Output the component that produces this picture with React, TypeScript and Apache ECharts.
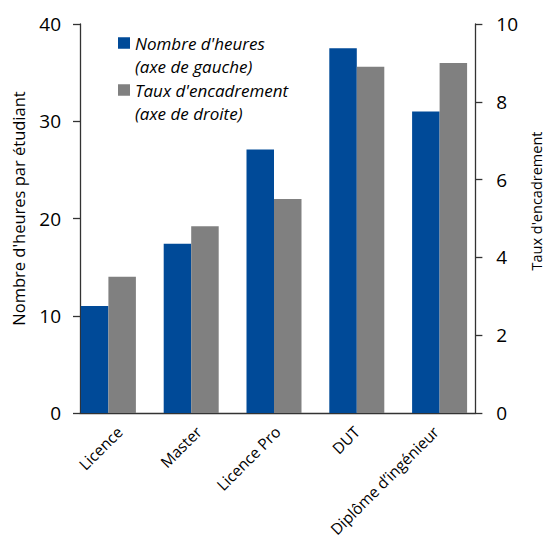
import React, { useEffect, useRef } from "react";
import * as echarts from "echarts";

const categories = ["Licence", "Master", "Licence Pro", "DUT", "Diplôme d’ingénieur"];
const heures = [11, 17.4, 27.1, 37.5, 31];
const encadrement = [3.5, 4.8, 5.5, 8.9, 9.0];
const leftTicks = { min: 0, max: 40, interval: 10 };
const rightTicks = { min: 0, max: 10, interval: 2 };
const seriesNames = ["Nombre d'heures", "Taux d'encadrement"];
const legendSub = ["(axe de gauche)", "(axe de droite)"];
const leftAxisName = "Nombre d'heures par étudiant";
const rightAxisName = "Taux d'encadrement";

const BLUE = "#004A98";
const GRAY = "#808080";
const FONT = "'Open Sans', 'Noto Sans', sans-serif";
const TXT = "#000";

export default function App() {
  const ref = useRef<HTMLDivElement>(null);
  useEffect(() => {
    if (!ref.current) return;
    const chart = echarts.init(ref.current, undefined, { renderer: "svg" });
    const axisLine = { show: true, lineStyle: { color: "#333", width: 1.3 } };
    const legendColors = [BLUE, GRAY];
    const graphic: any[] = [];
    seriesNames.forEach((n, i) => {
      const y0 = 43 + i * 47;
      graphic.push({
        type: "rect",
        left: 118,
        top: y0 - 5.75,
        shape: { width: 12, height: 11.5 },
        style: { fill: legendColors[i] },
        silent: true,
      });
      graphic.push({
        type: "text",
        x: 135,
        y: y0,
        style: {
          text: n,
          fill: TXT,
          font: `italic 17px ${FONT}`,
          verticalAlign: "middle",
        },
      });
      graphic.push({
        type: "text",
        x: 135,
        y: y0 + 23.5,
        style: {
          text: legendSub[i],
          fill: TXT,
          font: `italic 17px ${FONT}`,
          verticalAlign: "middle",
        },
      });
    });
    chart.setOption({
      animation: false,
      textStyle: { fontFamily: FONT },
      grid: [
        { left: 80, right: 59, top: 24, bottom: 136 },
        { left: 67, width: 414, top: 24, bottom: 136 },
      ],
      xAxis: [
        {
          type: "category",
          gridIndex: 0,
          data: categories,
          boundaryGap: true,
          axisLine,
          axisTick: { show: false },
          axisLabel: { rotate: 45, fontSize: 15.5, color: TXT, margin: 16, interval: 0, fontFamily: FONT },
        },
        {
          type: "category",
          gridIndex: 1,
          data: categories,
          show: false,
        },
      ],
      yAxis: [
        {
          type: "value",
          gridIndex: 0,
          position: "left",
          ...leftTicks,
          name: leftAxisName,
          nameLocation: "middle",
          nameGap: 53,
          nameTextStyle: { fontSize: 16.5, color: TXT, fontFamily: FONT, padding: [0, 0, 0, 20] },
          axisLine,
          axisTick: { show: true, length: 7, inside: false, lineStyle: { color: "#333", width: 1.3 } },
          axisLabel: { fontSize: 19, color: TXT, margin: 19, fontFamily: FONT },
          splitLine: { show: false },
        },
        {
          type: "value",
          gridIndex: 0,
          position: "right",
          ...rightTicks,
          name: rightAxisName,
          nameLocation: "middle",
          nameGap: 47,
          nameTextStyle: { fontSize: 14.5, color: TXT, fontFamily: FONT, padding: [0, 0, 0, 35] },
          axisLine,
          axisTick: { show: true, length: 7, inside: false, lineStyle: { color: "#333", width: 1.3 } },
          axisLabel: { fontSize: 19, color: TXT, margin: 21, fontFamily: FONT },
          splitLine: { show: false },
        },
        { type: "value", gridIndex: 1, ...leftTicks, show: false },
        { type: "value", gridIndex: 1, ...rightTicks, show: false },
      ],
      series: [
        {
          name: seriesNames[0],
          type: "bar",
          xAxisIndex: 1,
          yAxisIndex: 2,
          data: heures,
          barWidth: 27.5,
          barGap: "0%",
          itemStyle: { color: BLUE },
        },
        {
          name: seriesNames[1],
          type: "bar",
          xAxisIndex: 1,
          yAxisIndex: 3,
          data: encadrement,
          barWidth: 27.5,
          barGap: "0%",
          itemStyle: { color: GRAY },
        },
      ],
      graphic,
    });
    return () => chart.dispose();
  }, []);
  return (
    <div
      ref={ref}
      style={{ position: "fixed", left: 0, top: 0, width: 552, height: 549, background: "#fff" }}
    />
  );
}
